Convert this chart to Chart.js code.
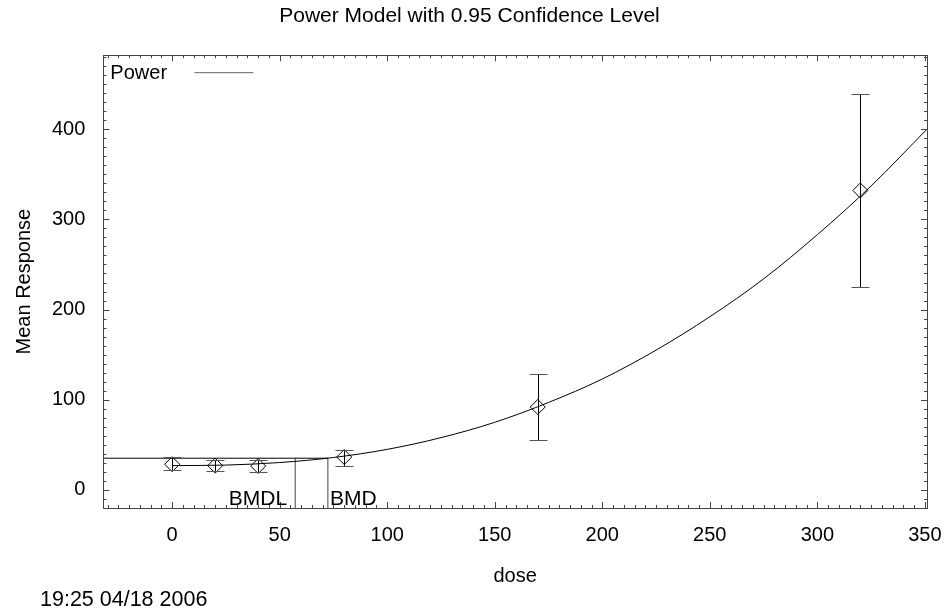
<!DOCTYPE html>
<html>
<head>
<meta charset="utf-8">
<script src="https://cdn.jsdelivr.net/npm/chart.js@4.4.1/dist/chart.umd.min.js"></script>
<style>
html, body { margin: 0; padding: 0; background: #fff; }
#wrap { width: 945px; height: 611px; }
</style>
</head>
<body>
<div id="wrap"><canvas id="powerChart"></canvas></div>
<script>
// observed dose groups (mean response with 95% limits)
const doses = [0, 20, 40, 80, 170, 320];
const means = [28.5, 27, 26.5, 36.5, 92, 332];
const lowerCL = [22, 21, 20, 27, 55, 225];
const upperCL = [36, 33, 33, 44, 129, 439];

// fitted power model
const curveDose = [0, 25, 50, 75, 100, 125, 150, 175, 200, 225, 250, 275, 300, 325, 351];
const curveResp = [27, 27.6, 30.4, 36, 45, 58, 75, 97, 123, 155, 192, 234, 283, 337, 400];

// benchmark dose markers
const bmdl = 57.2;
const bmd = 72.4;
const bmrResp = 35.2;

const xTicks = [0, 50, 100, 150, 200, 250, 300, 350];
const yTicks = [0, 100, 200, 300, 400];
const xMin = -32, xMax = 351;
const yMin = -20, yMax = 482;

const stamp = '19:25 04/18 2006';

const FONT = '"Liberation Sans", Arial, sans-serif';
Chart.defaults.font.family = FONT;
Chart.defaults.font.size = 20;
Chart.defaults.color = '#000';

function pts(xs, ys) {
    return xs.map((v, i) => ({x: v, y: ys[i]}));
}

// frame, inward tick marks, error bars, legend and BMD labels
const axisFrame = {
    id: 'axisFrame',
    afterDatasetsDraw(chart) {
        const {ctx, chartArea: a, scales: {x, y}} = chart;
        ctx.save();

        // error bars
        ctx.lineWidth = 1;
        doses.forEach((d, i) => {
            const px = Math.round(x.getPixelForValue(d)) + 0.5;
            const top = Math.round(y.getPixelForValue(upperCL[i])) + 0.5;
            const bot = Math.round(y.getPixelForValue(lowerCL[i])) + 0.5;
            ctx.strokeStyle = '#000';
            ctx.beginPath();
            ctx.moveTo(px, top);
            ctx.lineTo(px, bot);
            ctx.stroke();
            ctx.strokeStyle = '#555';
            ctx.beginPath();
            ctx.moveTo(px - 9, top); ctx.lineTo(px + 9, top);
            ctx.moveTo(px - 9, bot); ctx.lineTo(px + 9, bot);
            ctx.stroke();
        });

        // frame
        ctx.strokeStyle = '#444';
        ctx.strokeRect(Math.round(a.left) + 0.5, Math.round(a.top) + 0.5,
            Math.round(a.width), Math.round(a.height));

        // tick marks pointing into the plot
        ctx.beginPath();
        for (let v = -30; v <= xMax; v += 5) {
            const px = Math.round(x.getPixelForValue(v)) + 0.5;
            const len = v % 50 === 0 ? 6 : 3;
            ctx.moveTo(px, a.bottom); ctx.lineTo(px, a.bottom - len);
            ctx.moveTo(px, a.top); ctx.lineTo(px, a.top + len);
        }
        for (let v = yMin; v <= yMax; v += 10) {
            const py = Math.round(y.getPixelForValue(v)) + 0.5;
            const len = v % 100 === 0 ? 6 : 3;
            ctx.moveTo(a.left, py); ctx.lineTo(a.left + len, py);
            ctx.moveTo(a.right, py); ctx.lineTo(a.right - len, py);
        }
        ctx.stroke();

        // legend box in the corner
        ctx.fillStyle = '#000';
        ctx.font = '20px ' + FONT;
        ctx.textBaseline = 'middle';
        ctx.textAlign = 'left';
        ctx.fillText(chart.data.datasets[0].label, a.left + 7, a.top + 18);
        ctx.strokeStyle = '#666';
        ctx.beginPath();
        ctx.moveTo(a.left + 91, a.top + 17.5);
        ctx.lineTo(a.left + 150, a.top + 17.5);
        ctx.stroke();

        // BMDL / BMD labels
        ctx.font = '21px ' + FONT;
        ctx.textBaseline = 'alphabetic';
        ctx.textAlign = 'right';
        ctx.fillText('BMDL', x.getPixelForValue(bmdl) - 8, a.bottom - 3);
        ctx.textAlign = 'left';
        ctx.fillText('BMD', x.getPixelForValue(bmd) + 2, a.bottom - 3);

        // date stamp, bottom left
        ctx.font = '21.5px ' + FONT;
        ctx.textBaseline = 'middle';
        ctx.fillText(stamp, 40, chart.height - 11);

        ctx.restore();
    }
};

const lineStyle = {
    showLine: true,
    pointRadius: 0,
    borderColor: '#000',
    borderWidth: 1
};

new Chart(document.getElementById('powerChart'), {
    type: 'scatter',
    data: {
        datasets: [
            Object.assign({
                label: 'Power',
                data: pts(curveDose, curveResp),
                cubicInterpolationMode: 'monotone'
            }, lineStyle),
            Object.assign({
                label: 'BMR',
                data: pts([xMin, bmd], [bmrResp, bmrResp])
            }, lineStyle),
            Object.assign({
                label: 'BMDL line',
                data: pts([bmdl, bmdl], [yMin, bmrResp])
            }, lineStyle, {borderColor: '#444'}),
            Object.assign({
                label: 'BMD line',
                data: pts([bmd, bmd], [yMin, bmrResp])
            }, lineStyle, {borderColor: '#444'}),
            {
                label: 'Mean',
                data: pts(doses, means),
                showLine: false,
                pointStyle: 'rectRot',
                pointRadius: 7.5,
                pointBackgroundColor: 'rgba(0,0,0,0)',
                pointBorderColor: '#000',
                pointBorderWidth: 1
            }
        ]
    },
    options: {
        responsive: true,
        maintainAspectRatio: false,
        animation: false,
        layout: {
            padding: {left: 12, right: 18, top: 0, bottom: 23}
        },
        plugins: {
            legend: {display: false},
            tooltip: {enabled: false},
            title: {
                display: true,
                text: 'Power Model with 0.95 Confidence Level',
                font: {size: 21, weight: 'normal'},
                padding: {top: 4, bottom: 26}
            }
        },
        scales: {
            x: {
                type: 'linear',
                min: xMin,
                max: xMax,
                grid: {display: false, drawTicks: true, tickLength: 15},
                border: {display: false},
                afterBuildTicks: (scale) => {
                    scale.ticks = xTicks.map(v => ({value: v}));
                },
                ticks: {padding: 0, maxRotation: 0},
                title: {
                    display: true,
                    text: 'dose',
                    padding: {top: 17, bottom: 0}
                }
            },
            y: {
                type: 'linear',
                min: yMin,
                max: yMax,
                grid: {display: false, drawTicks: true, tickLength: 18},
                border: {display: false},
                afterBuildTicks: (scale) => {
                    scale.ticks = yTicks.map(v => ({value: v}));
                },
                ticks: {padding: 0},
                title: {
                    display: true,
                    text: 'Mean Response',
                    padding: {top: 0, bottom: 16}
                }
            }
        }
    },
    plugins: [axisFrame]
});
</script>
</body>
</html>
